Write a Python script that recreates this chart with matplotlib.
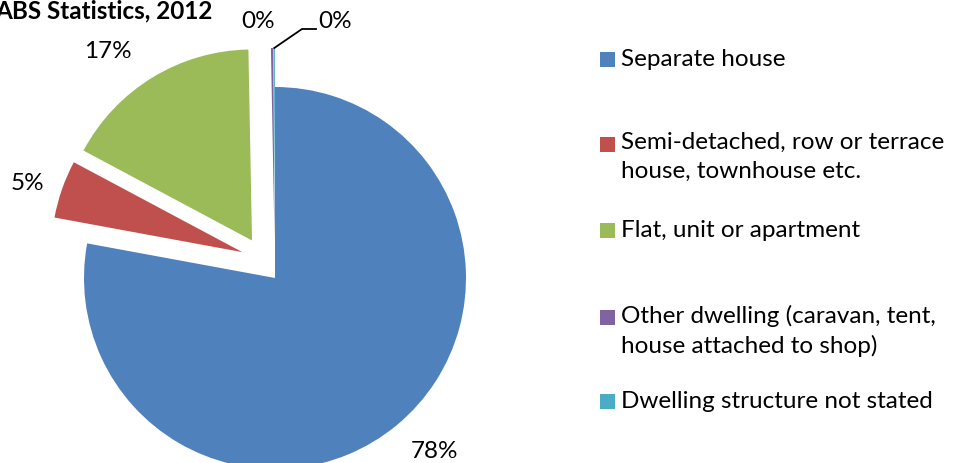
import numpy as np
import matplotlib.pyplot as plt

# datos
categorias = ["Separate house",
              "Semi-detached, row or terrace\nhouse, townhouse etc.",
              "Flat, unit or apartment",
              "Other dwelling (caravan, tent,\nhouse attached to shop)",
              "Dwelling structure not stated"]
valores = [77.9, 4.9, 16.9, 0.2, 0.1]
colores = ["#4F81BD", "#C0504D", "#9BBB59", "#8064A2", "#4BACC6"]

plt.rcParams['font.family'] = ['Lato', 'DejaVu Sans']
TAM = 17.5

fig = plt.figure(figsize=(9.54, 4.63), dpi=100)
ax = fig.add_axes([0, 0, 1, 1])

centro = (275, 185)
radio = 191
# separacion en pixeles (pie no la escala con el radio)
separacion = [0, 42, 44, 39, 39]

cunas, textos, pcts = ax.pie(valores, colors=colores, explode=separacion,
                             startangle=90, counterclock=False,
                             center=centro, radius=radio,
                             autopct='%1.0f%%', pctdistance=1.2,
                             wedgeprops=dict(linewidth=0),
                             textprops=dict(fontsize=TAM, color='black'))
ax.set_xlim(0, 954)
ax.set_ylim(0, 463)
ax.set_aspect('equal')
ax.axis('off')

# Excel desplaza la rebanada roja un poco hacia arriba
cx, cy = cunas[1].center
cunas[1].set_center((cx + 7, cy + 12))

# ajustes finos de etiquetas
pcts[0].set_position((435, 12))
pcts[1].set_position((27, 279))
pcts[2].set_position((108, 411))
pcts[3].set_position((258, 441))
pcts[3].set_ha('center')
pcts[4].set_position((318, 441))
pcts[4].set_ha('left')
w = cunas[4]
ang = np.deg2rad((w.theta1 + w.theta2) / 2)
x0 = w.center[0] + w.r * np.cos(ang)
y0 = w.center[1] + w.r * np.sin(ang)
ax.plot([x0, 302, 316], [y0, 434, 434], color='black', lw=1.3)

# titulo (cortado a la izquierda)
ax.text(213, 452, "ABS Statistics, 2012", ha='right', va='center',
        fontsize=TAM, fontweight='bold')

# leyenda
y_leyenda = [403, 318, 232, 145, 61]
for etiqueta, color, y in zip(categorias, colores, y_leyenda):
    ax.add_patch(plt.Rectangle((600, y - 7), 15, 15, color=color, lw=0))
    if '\n' in etiqueta:
        ax.text(621, y + 13, etiqueta, ha='left', va='top', fontsize=TAM,
                linespacing=1.45)
    else:
        ax.text(621, y, etiqueta, ha='left', va='center', fontsize=TAM)

fig.savefig("out.png", dpi=100)
